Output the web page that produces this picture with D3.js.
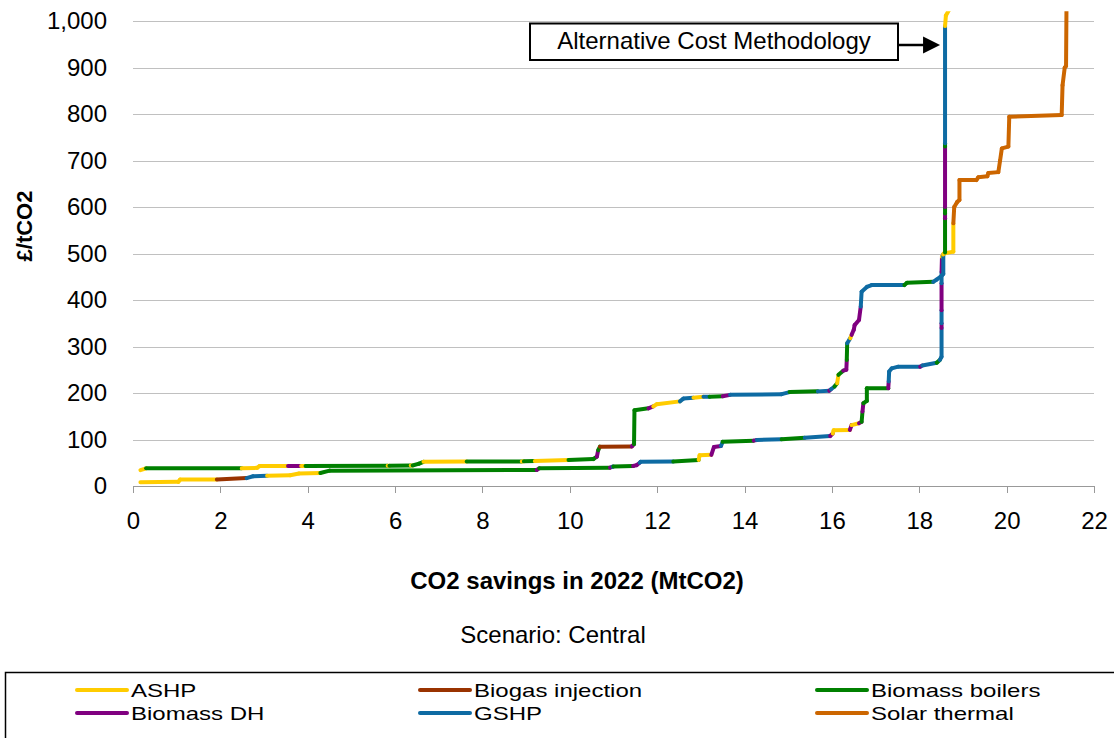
<!DOCTYPE html>
<html>
<head>
<meta charset="utf-8">
<script src="https://cdn.jsdelivr.net/npm/d3@7"></script>
<style>
  body { margin: 0; background: #fff; }
  svg { display: block; font-family: "Liberation Sans", Arial, sans-serif; }
</style>
</head>
<body>
<svg id="chart" width="1114" height="738"></svg>
<script>
// Technologies, their short keys and line colours
const techKeys   = ["A", "B", "M", "D", "G", "S"];
const techNames  = ["ASHP", "Biogas injection", "Biomass boilers", "Biomass DH", "GSHP", "Solar thermal"];
const techColors = ["#FFCC00", "#993300", "#008000", "#800080", "#0E6BA3", "#CC6600"];

// Axis ticks
const xTicks = [0, 2, 4, 6, 8, 10, 12, 14, 16, 18, 20, 22];
const yTicks = [0, 100, 200, 300, 400, 500, 600, 700, 800, 900, 1000];

// Central cost curve: cumulative savings (MtCO2), cost (£/tCO2), technology of each step
const stdSavings = [0.17, 1.04, 1.08, 1.92, 2.60, 2.75, 3.07, 3.60, 3.80, 4.29,
  4.50, 9.24, 9.30, 10.92, 10.98, 11.00, 11.45, 11.53, 11.60, 11.62,
  12.37, 12.95, 12.97, 13.24, 13.30, 13.46, 13.50, 14.21, 14.28, 14.85,
  15.38, 15.96, 16.02, 16.04, 16.41, 16.45, 16.62, 16.68, 16.70, 16.72,
  16.80, 16.80, 17.29, 17.30, 17.31, 17.37, 17.52, 18.02, 18.07, 18.40,
  18.47, 18.51, 18.51, 18.51, 18.51, 18.51, 18.51, 18.52, 18.56, 18.78,
  18.78, 18.80, 18.87, 18.92, 18.92, 19.31, 19.35, 19.56, 19.58, 19.81,
  19.85, 19.89, 20.04, 20.06, 21.26, 21.28, 21.33, 21.36, 21.37];
const stdCost = [8, 9, 14, 14, 17, 21, 22, 23, 27, 28,
  33, 34.5, 38, 39.5, 41.5, 42, 43, 45, 50, 52,
  52.5, 56, 66, 67, 84, 86, 95, 97.5, 99, 100.5,
  104, 107.5, 113, 120, 120.5, 131, 135, 138, 160, 178,
  183, 210, 210, 225, 246, 253, 256.6, 256.6, 259, 265,
  271, 278, 340, 350, 378, 436, 460, 493, 500, 504,
  565, 600, 611, 615, 658, 658, 664, 666, 673, 675,
  700, 726, 730, 794, 798, 862, 900, 903, 1030];
const stdTech = ["A","A","A","B","G","G","A","A","A","M",
  "M","D","M","D","G","M","D","D","G","G",
  "M","A","A","D","D","G","M","D","G","M",
  "G","D","A","A","D","A","D","M","D","M",
  "M","M","D","G","G","G","G","D","G","M",
  "G","G","D","G","D","G","D","A","A","A",
  "S","S","S","S","S","S","S","S","S","S",
  "S","S","S","S","S","S","S","S"];

// Alternative cost methodology curve
const altSavings = [0.17, 0.30, 2.49, 2.84, 2.90, 3.55, 3.85, 3.95, 5.83, 5.87,
  6.36, 6.40, 6.55, 6.65, 7.64, 8.90, 8.95, 9.20, 9.97, 10.54,
  10.62, 10.65, 10.69, 11.42, 11.47, 11.48, 11.80, 11.91, 11.99, 12.52,
  12.60, 12.83, 13.06, 13.20, 13.50, 13.67, 14.85, 15.03, 15.68, 15.94,
  15.98, 16.06, 16.12, 16.15, 16.26, 16.33, 16.34, 16.35, 16.42, 16.45,
  16.50, 16.52, 16.62, 16.66, 16.68, 16.80, 16.91, 17.66, 17.72, 18.32,
  18.40, 18.51, 18.55, 18.55, 18.59, 18.59, 18.59, 18.59, 18.59, 18.59,
  18.59, 18.61, 18.72];
const altCost = [34, 38, 38, 39, 43, 43, 43, 43, 43.5, 43.5,
  44, 44, 48, 52, 52.5, 52.5, 53, 53.5, 56, 58,
  63, 77, 84.5, 85, 90, 163, 167, 171, 176, 182,
  188, 190, 192, 192, 193, 196, 197.5, 202, 203.5, 205,
  208, 214, 221, 239, 248, 250, 271, 307, 318, 325,
  336, 346, 357, 386, 418, 428, 432, 432, 437, 439,
  444, 452, 456, 498, 502, 576, 586, 600, 730, 737,
  989, 1012, 1030];
const altTech = ["A","M","A","A","A","D","A","M","A","M",
  "A","M","M","A","M","A","M","A","M","M",
  "D","M","B","D","M","M","D","A","A","G",
  "G","A","G","M","D","G","G","M","G","D",
  "G","M","A","M","D","D","M","G","A","D",
  "D","D","D","G","G","G","G","M","M","G",
  "G","G","G","A","M","D","M","D","M","G",
  "A","A"];

const svg = d3.select("#chart");
const W = 1114, H = 738;
const plot = { left: 133, right: 1094, top: 21, bottom: 486 };
const FONT = "'Liberation Sans', Arial, sans-serif";

const x = d3.scaleLinear().domain([0, 22]).range([plot.left, plot.right]);
const y = d3.scaleLinear().domain([0, 1000]).range([plot.bottom, plot.top]);
const colorOf = d3.scaleOrdinal().domain(techKeys).range(techColors);

svg.append("rect").attr("width", W).attr("height", H).attr("fill", "#fff");

// Horizontal gridlines and value labels
const yAxis = d3.axisLeft(y)
  .tickValues(yTicks)
  .tickSize(-(plot.right - plot.left))
  .tickPadding(26)
  .tickFormat(d3.format(","));
const gy = svg.append("g").attr("transform", `translate(${plot.left},0)`).call(yAxis);
gy.select(".domain").remove();
gy.selectAll(".tick line")
  .attr("stroke", d => d === 0 ? "none" : "#c0c0c0")
  .attr("stroke-width", 1)
  .attr("shape-rendering", "crispEdges");
gy.selectAll(".tick text")
  .attr("font-size", 24).attr("fill", "#000")
  .attr("font-family", FONT);

// Bottom axis
const xAxis = d3.axisBottom(x).tickValues(xTicks).tickSize(7).tickPadding(19).tickSizeOuter(0);
const gx = svg.append("g").attr("transform", `translate(0,${plot.bottom})`).call(xAxis);
gx.select(".domain").attr("stroke", "#999").attr("shape-rendering", "crispEdges");
gx.selectAll(".tick line").attr("stroke", "#999").attr("shape-rendering", "crispEdges");
gx.selectAll(".tick text")
  .attr("font-size", 24).attr("fill", "#000")
  .attr("font-family", FONT);

// Clip so the curves end just above the top of the value range
svg.append("clipPath").attr("id", "plotClip")
  .append("rect")
  .attr("x", plot.left).attr("y", y(1021))
  .attr("width", plot.right - plot.left).attr("height", plot.bottom - y(1021) + 4);

const line = d3.line().x(d => x(d[0])).y(d => y(d[1]));

function drawCurve(savings, cost, tech) {
  const g = svg.append("g").attr("clip-path", "url(#plotClip)");
  const segs = tech.map((t, i) => ({
    tech: t,
    pts: [[savings[i], cost[i]], [savings[i + 1], cost[i + 1]]]
  }));
  g.selectAll("path").data(segs).join("path")
    .attr("d", d => line(d.pts))
    .attr("fill", "none")
    .attr("stroke", d => colorOf(d.tech))
    .attr("stroke-width", 4)
    .attr("stroke-linecap", "round")
    .attr("stroke-linejoin", "round");
}

drawCurve(stdSavings, stdCost, stdTech);
drawCurve(altSavings, altCost, altTech);

// Callout for the alternative methodology
const callout = svg.append("g");
callout.append("rect")
  .attr("x", 530).attr("y", 23.5).attr("width", 368).attr("height", 36.5)
  .attr("fill", "#fff").attr("stroke", "#000").attr("stroke-width", 2);
callout.append("text")
  .attr("x", 714).attr("y", 49).attr("text-anchor", "middle")
  .attr("font-size", 24).text("Alternative Cost Methodology");
const tipX = x(18.59) - 5;
callout.append("line")
  .attr("x1", 898).attr("x2", tipX - 14).attr("y1", 45).attr("y2", 45)
  .attr("stroke", "#000").attr("stroke-width", 2.5);
callout.append("path")
  .attr("d", `M${tipX},45 L${tipX - 17},36.5 L${tipX - 17},53.5 Z`)
  .attr("fill", "#000");

// Axis titles
svg.append("text")
  .attr("transform", "translate(32,226) rotate(-90)")
  .attr("text-anchor", "middle")
  .attr("font-size", 22).attr("font-weight", "bold")
  .text("£/tCO2");
svg.append("text")
  .attr("x", 577).attr("y", 589).attr("text-anchor", "middle")
  .attr("font-size", 24).attr("font-weight", "bold")
  .text("CO2 savings in 2022 (MtCO2)");
svg.append("text")
  .attr("x", 553).attr("y", 643).attr("text-anchor", "middle")
  .attr("font-size", 24)
  .text("Scenario: Central");

// Legend: labels are drawn a little shorter than the tick text and stretched
// sideways so the two rows sit close together without touching
const legend = svg.append("g");
legend.append("rect")
  .attr("x", 5.5).attr("y", 672.5).attr("width", 1130).attr("height", 80)
  .attr("fill", "#fff").attr("stroke", "#000").attr("stroke-width", 1.5);
const legendCols = [77, 420, 817];
const legendRows = [690, 713];
const measure = svg.append("text").attr("font-size", 24).attr("font-family", FONT);
techNames.forEach((name, i) => {
  const cx = legendCols[i % 3], cy = legendRows[Math.floor(i / 3)];
  measure.text(name);
  const w = measure.node().getComputedTextLength();
  legend.append("line")
    .attr("x1", cx).attr("x2", cx + 50).attr("y1", cy).attr("y2", cy)
    .attr("stroke", techColors[i]).attr("stroke-width", 4).attr("stroke-linecap", "round");
  legend.append("text")
    .attr("x", cx + 54).attr("y", cy + 7)
    .attr("font-size", 19)
    .attr("textLength", w).attr("lengthAdjust", "spacingAndGlyphs")
    .text(name);
});
measure.remove();
</script>
</body>
</html>
